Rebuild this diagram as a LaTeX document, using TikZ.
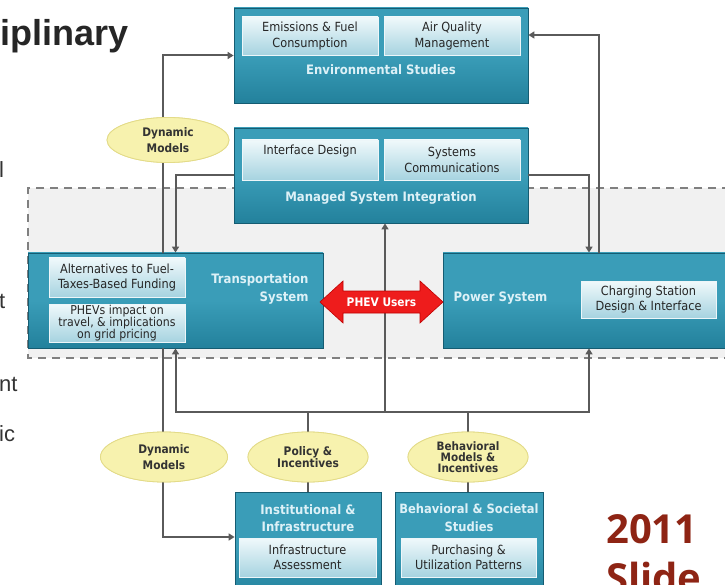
\documentclass[tikz,border=0pt]{standalone}
\usepackage{fontspec}
\setmainfont{DejaVu Sans Condensed}
\newfontfamily\titlefont{Liberation Sans}
\newfontfamily\slidefont{Open Sans}
\usetikzlibrary{arrows.meta,calc,shapes.geometric}
\definecolor{tealbox}{HTML}{23819C}
\definecolor{tealdark}{HTML}{155C72}
\definecolor{teallight}{HTML}{3A9DB8}
\definecolor{innertop}{HTML}{F0F9FB}
\definecolor{innerbot}{HTML}{A6D3E0}
\definecolor{labeltxt}{HTML}{DDF1F7}
\definecolor{conncol}{HTML}{5A5A5A}
\definecolor{ellfill}{HTML}{F7F2AE}
\definecolor{elldraw}{HTML}{E3DB88}
\definecolor{phevred}{HTML}{EE1C1C}
\definecolor{slidered}{HTML}{8E2414}
\definecolor{regionfill}{HTML}{F1F1F1}
\tikzset{
  bigbox/.style={rectangle, draw=tealdark, line width=0.8pt, top color=teallight, bottom color=tealbox, middle color=teallight, minimum width=#1},
  innerbox/.style={rectangle, draw=white!80!innerbot, line width=0.5pt, top color=innertop, bottom color=innerbot, align=center, font=\fontsize{12.6}{15.5}\selectfont, text=black!85, inner sep=1pt},
  lbl/.style={font=\bfseries\fontsize{13}{17}\selectfont, text=labeltxt, align=center},
  ellnode/.style={ellipse, fill=ellfill, draw=elldraw, line width=0.8pt, align=center, font=\bfseries\fontsize{11.8}{11.5}\selectfont, text=black!80, inner sep=0pt},
  conn/.style={draw=conncol, line width=2pt},
  arr/.style={conn, -{Triangle[length=6pt,width=7pt]}},
  frag/.style={font=\titlefont\fontsize{22}{24}\selectfont, text=black!80, anchor=west, inner sep=0pt}
}
\begin{document}
\begin{tikzpicture}[x=1pt,y=-1pt]
\useasboundingbox (0,0) rectangle (725,585);
\clip (0,0) rectangle (725,585);
\fill[white] (0,0) rectangle (725,585);
% dashed region
\fill[regionfill] (28,188) rectangle (730,358);
\draw[draw=black!50, line width=1.6pt, dash pattern=on 8pt off 6pt] (730,188) -- (28,188) -- (28,358) -- (730,358);

% left edge text fragments
\node[font=\titlefont\bfseries\fontsize{36}{38}\selectfont, anchor=base west, inner sep=0pt, text=black!85] (title) at (0,46) {iplinary};
\node[frag] (f1) at (-1,170) {l};
\node[frag] (f2) at (-1,301) {t};
\node[frag] (f3) at (-1,384) {nt};
\node[frag] (f4) at (-1,434) {ic};

% main boxes
\node[bigbox=294pt, minimum height=95pt] (env) at (381,55.5) {};
\node[bigbox=294pt, minimum height=95pt] (msi) at (381,175.5) {};
\node[bigbox=295pt, minimum height=95pt] (trans) at (175.5,300.5) {};
\node[bigbox=292pt, minimum height=95pt] (power) at (589,300.5) {};
\node[bigbox=146pt, minimum height=108pt] (inst) at (308,546) {};
\node[bigbox=148pt, minimum height=108pt] (behs) at (469,546) {};

% line positions
\coordinate (lx) at (163,0);
\coordinate (hub) at (385,412);

% ellipses (named)
\node[ellnode, minimum width=122pt, minimum height=45pt, font=\bfseries\fontsize{11.8}{16}\selectfont] (dm1) at (168,140) {Dynamic\\Models};
\node[ellnode, minimum width=127pt, minimum height=50pt, font=\bfseries\fontsize{11.8}{16}\selectfont] (dm2) at (164,457) {Dynamic\\Models};
\node[ellnode, minimum width=120pt, minimum height=50pt] (pol) at (308,457) {Policy \&\\Incentives};
\node[ellnode, minimum width=120pt, minimum height=50pt, font=\bfseries\fontsize{11.6}{11}\selectfont] (behm) at (468,457) {Behavioral\\Models \&\\Incentives};

% connectors
\path[arr] (trans.north -| lx) |- (env.west);
\path[arr] (msi.west) -| (trans.north);
\path[arr] (msi.east) -| (power.north);
\path[arr] ([xshift=10pt]power.north) |- ([yshift=20.5pt]env.east);
\path[arr] (hub) -- (hub |- msi.south);
\path[arr] (hub) -| (trans.south);
\path[arr] (hub) -| (power.south);
\path[conn] (pol.north |- hub) -- (pol.north);
\path[conn] (pol.south) -- (inst.north -| pol.south);
\path[conn] (behm.north |- hub) -- (behm.north);
\path[conn] (behm.south) -- (behs.north -| behm.south);
\path[arr] (trans.south -| lx) |- ([yshift=9pt]inst.west);

% ellipses redrawn above the lines
\node[ellnode, minimum width=122pt, minimum height=45pt, font=\bfseries\fontsize{11.8}{16}\selectfont] at (dm1) {Dynamic\\Models};
\node[ellnode, minimum width=127pt, minimum height=50pt, font=\bfseries\fontsize{11.8}{16}\selectfont] at (dm2) {Dynamic\\Models};
\node[ellnode, minimum width=120pt, minimum height=50pt] at (pol) {Policy \&\\Incentives};
\node[ellnode, minimum width=120pt, minimum height=50pt, font=\bfseries\fontsize{11.6}{11}\selectfont] at (behm) {Behavioral\\Models \&\\Incentives};

% inner boxes and labels
\node[innerbox, minimum width=136pt, minimum height=38pt] (emis) at (310,36) {Emissions \& Fuel\\Consumption};
\node[innerbox, minimum width=136pt, minimum height=38pt] (airq) at (452,36) {Air Quality\\Management};
\node[lbl] (envl) at (381,70) {Environmental Studies};

\node[innerbox, minimum width=136pt, minimum height=40pt] (ifd) at (310,160) {};
\node[font=\fontsize{12.6}{15}\selectfont, text=black!85] (ifdt) at (310,151) {Interface Design};
\node[innerbox, minimum width=136pt, minimum height=40pt] (sysc) at (452,160) {Systems\\Communications};
\node[lbl] (msil) at (381,198) {Managed System Integration};

\node[innerbox, minimum width=136pt, minimum height=39pt] (alt) at (117,277.5) {Alternatives to Fuel-\\Taxes-Based Funding};
\node[innerbox, minimum width=136pt, minimum height=38pt, font=\fontsize{12.2}{12}\selectfont] (phevi) at (117,323) {PHEVs impact on\\travel, \& implications\\on grid pricing};
\node[lbl, align=right, anchor=east, font=\bfseries\fontsize{13}{18}\selectfont] (transl) at (312,289) {Transportation\\System};

\node[innerbox, minimum width=135pt, minimum height=37pt] (chg) at (648.5,299.5) {Charging Station\\Design \& Interface};
\node[lbl, anchor=west] (powl) at (450,298) {Power System};

\node[lbl, font=\bfseries\fontsize{13}{17}\selectfont] (instl) at (308,518) {Institutional \&\\Infrastructure};
\node[innerbox, minimum width=137pt, minimum height=39pt] (infa) at (307.5,557.5) {Infrastructure\\Assessment};
\node[lbl, font=\bfseries\fontsize{12.8}{18}\selectfont] (behsl) at (469,518) {Behavioral \& Societal\\Studies};
\node[innerbox, minimum width=135pt, minimum height=39pt] (purch) at (468.5,557.5) {Purchasing \&\\Utilization Patterns};

% PHEV double arrow
\fill[phevred, draw=red!75!black, line width=0.6pt]
  (320,302) -- (343,281) -- (343,291) -- (420,291) -- (420,281) -- (443,302)
  -- (420,323) -- (420,313) -- (343,313) -- (343,323) -- cycle;
\node[font=\bfseries\fontsize{11.8}{12}\selectfont, text=white] (phev) at (381.5,302) {PHEV Users};

% 2011 Slide
\node[font=\slidefont\bfseries\fontsize{40}{49}\selectfont, text=slidered, anchor=base west, align=left, inner sep=0pt] (slide) at (606,592) {2011\\Slide};
\end{tikzpicture}
\end{document}
